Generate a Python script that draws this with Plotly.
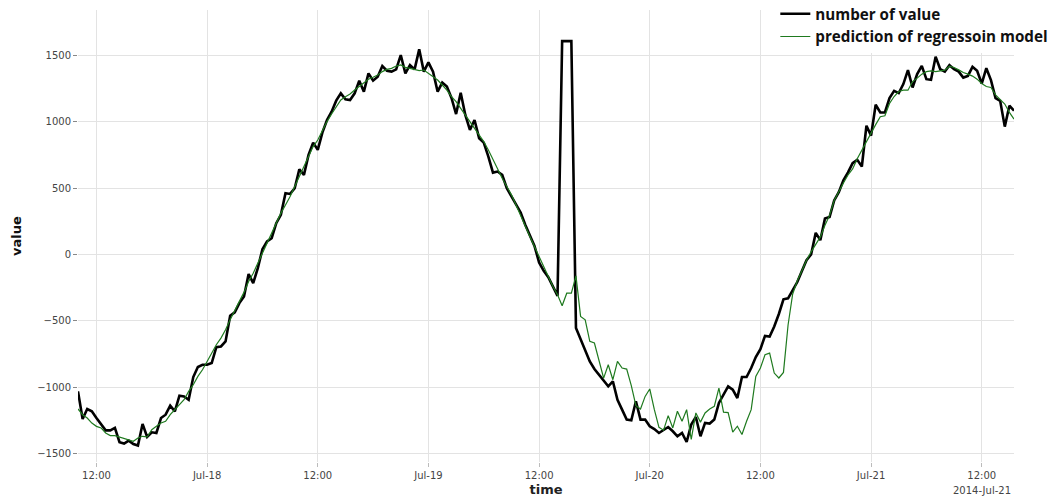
import pandas as pd
import plotly.graph_objects as go

# Half-hourly timestamps, 2014-07-17 10:00 .. 2014-07-21 15:30
start_time = "2014-07-17 10:00"
n_points = 204

actual_values = [
    -1033, -1241, -1166, -1184, -1234, -1284, -1327, -1327, -1309, -1417,
    -1427, -1405, -1430, -1442, -1279, -1377, -1342, -1347, -1234, -1209,
    -1141, -1184, -1066, -1071, -1096, -925, -849, -832, -832, -819,
    -699, -694, -656, -462, -437, -367, -317, -148, -216, -103,
    40, 98, 123, 236, 299, 462, 457, 500, 643, 601,
    751, 844, 789, 920, 1015, 1078, 1161, 1216, 1171, 1166,
    1216, 1312, 1229, 1367, 1312, 1342, 1422, 1387, 1380, 1397,
    1505, 1367, 1430, 1397, 1548, 1380, 1450, 1380, 1229, 1297,
    1267, 1181, 1060, 1221, 1053, 940, 1015, 877, 844, 739,
    618, 626, 601, 500, 437, 374, 317, 224, 148, 65,
    -60, -123, -171, -236, -312, 1610, 1610, 1610, -555, -643,
    -724, -807, -864, -907, -945, -995, -957, -1096, -1171, -1246,
    -1251, -1108, -1246, -1246, -1297, -1317, -1347, -1322, -1302, -1334,
    -1372, -1347, -1415, -1284, -1226, -1372, -1271, -1276, -1246, -1120,
    -1058, -995, -1020, -1083, -925, -925, -857, -774, -714, -614,
    -619, -544, -449, -338, -331, -273, -208, -125, -43, 0,
    163, 108, 271, 283, 408, 470, 560, 620, 689, 714,
    664, 972, 897, 1130, 1072, 1072, 1180, 1235, 1218, 1286,
    1391, 1260, 1361, 1423, 1323, 1318, 1493, 1398, 1380, 1428,
    1398, 1380, 1335, 1348, 1416, 1386, 1290, 1406, 1316, 1180,
    1160, 965, 1123, 1085,
]

predicted_values = [
    -1166, -1209, -1234, -1272, -1297, -1309, -1347, -1367, -1367, -1377,
    -1392, -1397, -1410, -1385, -1372, -1377, -1322, -1297, -1272, -1259,
    -1209, -1171, -1133, -1096, -1033, -983, -920, -870, -807, -744,
    -681, -631, -568, -493, -417, -354, -286, -204, -141, -65,
    10, 85, 161, 241, 312, 374, 437, 513, 588, 663,
    734, 814, 864, 940, 1003, 1060, 1116, 1166, 1191, 1211,
    1241, 1267, 1292, 1322, 1337, 1355, 1380, 1397, 1405, 1422,
    1430, 1412, 1405, 1397, 1387, 1392, 1367, 1347, 1317, 1279,
    1241, 1191, 1153, 1103, 1053, 1003, 960, 902, 852, 789,
    714, 643, 575, 513, 450, 374, 299, 216, 136, 60,
    -15, -90, -171, -241, -304, -387, -292, -292, -161, -467,
    -493, -656, -668, -807, -933, -832, -945, -807, -857, -865,
    -990, -1141, -1166, -1071, -1015, -1171, -1304, -1326, -1216, -1309,
    -1183, -1258, -1171, -1396, -1196, -1265, -1196, -1166, -1146, -1008,
    -1190, -1193, -1340, -1296, -1359, -1258, -1171, -920, -857, -757,
    -744, -895, -932, -890, -532, -298, -198, -123, -43, 20,
    77, 133, 220, 295, 408, 480, 540, 600, 646, 722,
    789, 852, 914, 980, 1040, 1047, 1140, 1192, 1230, 1240,
    1240, 1305, 1331, 1361, 1380, 1386, 1380, 1386, 1391, 1421,
    1411, 1393, 1373, 1361, 1346, 1323, 1290, 1268, 1260, 1205,
    1173, 1135, 1072, 1022,
]

tick_times = [
    "2014-07-17 12:00", "2014-07-18 00:00", "2014-07-18 12:00",
    "2014-07-19 00:00", "2014-07-19 12:00", "2014-07-20 00:00",
    "2014-07-20 12:00", "2014-07-21 00:00", "2014-07-21 12:00",
]
tick_labels = ["12:00", "Jul-18", "12:00", "Jul-19", "12:00",
               "Jul-20", "12:00", "Jul-21", "12:00"]
year_label = "2014-Jul-21"

y_ticks = [-1500, -1000, -500, 0, 500, 1000, 1500]

times = pd.date_range(start_time, periods=n_points, freq="30min")

fig = go.Figure()
fig.add_trace(go.Scatter(
    x=times, y=actual_values, mode="lines", name="number of value",
    line=dict(color="#000000", width=2.6),
))
fig.add_trace(go.Scatter(
    x=times, y=predicted_values, mode="lines",
    name="prediction of regressoin model",
    line=dict(color="#1f7a1f", width=1.2),
))

tick_font = dict(family="DejaVu Sans", size=10, color="#444444")
grid_color = "#e3e3e3"

fig.update_layout(
    width=1058, height=500,
    margin=dict(l=78, r=44, t=10, b=38, autoexpand=False),
    paper_bgcolor="white", plot_bgcolor="white",
    showlegend=True,
    legend=dict(
        x=0.745, y=1.028, xanchor="left", yanchor="top",
        bgcolor="white", borderwidth=0,
        font=dict(family="Open Sans", size=15.2, color="#111111",
                  weight="bold"),
        tracegroupgap=0,
    ),
    xaxis=dict(
        range=[times[0], times[-1]],
        tickmode="array", tickvals=tick_times, ticktext=tick_labels,
        tickfont=tick_font, ticks="outside", ticklen=4, tickcolor="#bbbbbb",
        showgrid=True, gridcolor=grid_color, gridwidth=1,
        showline=False, zeroline=False,
        title=dict(text="time", standoff=4,
                   font=dict(family="DejaVu Sans", size=13, color="#222222",
                             weight="bold")),
    ),
    yaxis=dict(
        range=[-1566, 1845],
        tickmode="array", tickvals=y_ticks,
        tickfont=tick_font, ticks="outside", ticklen=4, tickcolor="#888888",
        showgrid=True, gridcolor=grid_color, gridwidth=1,
        showline=False, zeroline=False,
        title=dict(text="value", standoff=12,
                   font=dict(family="DejaVu Sans", size=13, color="#111111",
                             weight="bold")),
    ),
    annotations=[dict(
        x=tick_times[-1], y=0, xref="x", yref="paper",
        yshift=-21, text=year_label, showarrow=False,
        xanchor="center", yanchor="top",
        font=tick_font,
    )],
)

fig.write_html("out.html")
